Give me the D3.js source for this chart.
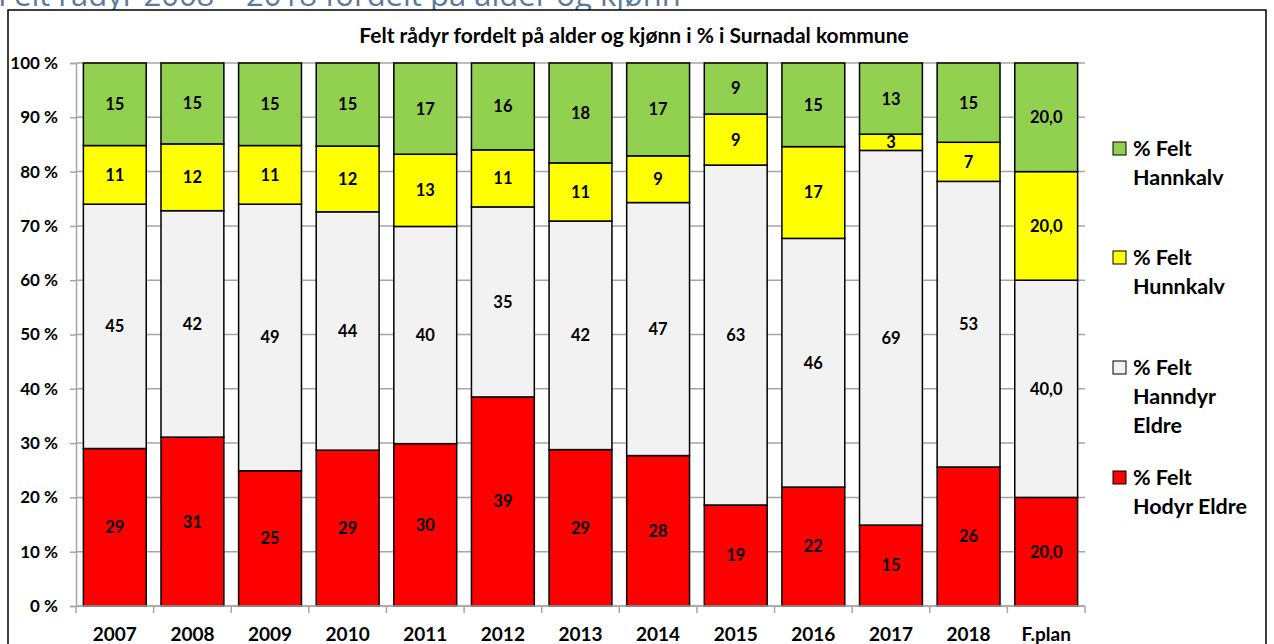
<!DOCTYPE html>
<html><head><meta charset="utf-8">
<script src="https://cdn.jsdelivr.net/npm/d3@7"></script>
<style>html,body{margin:0;padding:0;background:#fff;}svg{display:block;}</style>
</head><body>
<svg id="c" width="1274" height="644"></svg>
<script>
const categories = ["2007","2008","2009","2010","2011","2012","2013","2014","2015","2016","2017","2018","F.plan"];
const hodyrEldre   = [29.0,31.1,24.9,28.7,29.9,38.5,28.8,27.7,18.6,21.9,14.9,25.6,20];
const hanndyrEldre = [45.0,41.7,49.1,43.9,40.0,35.0,42.1,46.6,62.6,45.8,69.0,52.6,40];
const hunnkalv     = [10.8,12.3,10.8,12.1,13.3,10.5,10.7,8.6,9.4,16.9,3.0,7.2,20];
const hannkalv     = [15.2,14.9,15.2,15.3,16.8,16.0,18.4,17.1,9.4,15.4,13.1,14.6,20];
const seriesNames  = ["% Felt Hodyr Eldre","% Felt Hanndyr Eldre","% Felt Hunnkalv","% Felt Hannkalv"];
const seriesKeys   = ["hodyr","hanndyr","hunnkalv","hannkalv"];
const seriesColors = ["#FF0000","#F2F2F2","#FFFF00","#92D050"];
const yTicks = [0,10,20,30,40,50,60,70,80,90,100];
const pageHeading = "Felt rådyr 2008 – 2018 fordelt på alder og kjønn";
const chartTitle = "Felt rådyr fordelt på alder og kjønn i % i Surnadal kommune";

const rows = categories.map((c,i)=>({cat:c, hodyr:hodyrEldre[i], hanndyr:hanndyrEldre[i], hunnkalv:hunnkalv[i], hannkalv:hannkalv[i]}));
const stacked = d3.stack().keys(seriesKeys).offset(d3.stackOffsetExpand)(rows);

const svg = d3.select("#c");
const font = "Lato, 'Open Sans', sans-serif";

// page heading (cut off at top)
svg.append("text").attr("x",-2).attr("y",6).attr("font-family","'Open Sans', sans-serif")
  .attr("font-size",31).attr("fill","#5b7a9c").text(pageHeading);

// outer chart frame
svg.append("rect").attr("x",8).attr("y",10).attr("width",1258).attr("height",660)
  .attr("fill","#fff").attr("stroke","#000").attr("stroke-width",1.5);

svg.append("text").attr("x",634).attr("y",43).attr("text-anchor","middle")
  .attr("font-family",font).attr("font-weight","bold").attr("font-size",21).text(chartTitle);

const x = d3.scaleBand().domain(categories).range([76,1085]).paddingInner(0.19).paddingOuter(0.095);
const y = d3.scaleLinear().domain([0,1]).range([606,63]);
const xb = d3.scaleBand().domain(categories).range([76,1085]);

// gridlines
svg.append("g").selectAll("line").data(yTicks).join("line")
  .attr("x1",76).attr("x2",1085).attr("y1",d=>y(d/100)).attr("y2",d=>y(d/100))
  .attr("stroke","#a6a6a6").attr("stroke-width",1.5);

// y axis
const yAxis = d3.axisLeft(y).tickValues(yTicks.map(d=>d/100)).tickSize(6).tickPadding(12)
  .tickFormat(d=>Math.round(d*100)+" %");
const gy = svg.append("g").attr("transform","translate(76,0)").call(yAxis);
gy.select(".domain").attr("stroke","#a6a6a6").attr("stroke-width",1.5);
gy.selectAll(".tick line").attr("stroke","#a6a6a6").attr("stroke-width",1.5);
gy.selectAll("text").attr("font-family",font).attr("font-weight","bold").attr("font-size",17).attr("fill","#000");

// x axis ticks at boundaries
const bounds = categories.map(c=>xb(c)).concat([1085]);
svg.append("g").selectAll("line").data(bounds).join("line")
  .attr("x1",d=>d).attr("x2",d=>d).attr("y1",606).attr("y2",613)
  .attr("stroke","#a6a6a6").attr("stroke-width",1.5);
svg.append("g").selectAll("text").data(categories).join("text")
  .attr("x",d=>xb(d)+xb.bandwidth()/2).attr("y",641).attr("text-anchor","middle")
  .attr("font-family",font).attr("font-weight","bold").attr("font-size",19).text(d=>d);

// bars
stacked.forEach((s,si)=>{
  const g = svg.append("g");
  g.selectAll("rect").data(s).join("rect")
    .attr("x",d=>x(d.data.cat)).attr("width",x.bandwidth())
    .attr("y",d=>y(d[1])).attr("height",d=>y(d[0])-y(d[1]))
    .attr("fill",seriesColors[si]).attr("stroke","#000").attr("stroke-width",1.5);
  g.selectAll("text").data(s).join("text")
    .attr("x",d=>x(d.data.cat)+x.bandwidth()/2).attr("y",d=>(y(d[0])+y(d[1]))/2)
    .attr("dy","0.36em").attr("text-anchor","middle")
    .attr("font-family",font).attr("font-weight","bold").attr("font-size",16.5)
    .text(d=>{const v=d.data[seriesKeys[si]]; return d.data.cat==="F.plan"? d3.format(".1f")(v).replace(".",","): String(Math.round(v));});
});

// axis line at bottom
svg.append("line").attr("x1",76).attr("x2",1085).attr("y1",606).attr("y2",606).attr("stroke","#a6a6a6").attr("stroke-width",1.5);

// legend
const legendLines = [["% Felt","Hannkalv"],["% Felt","Hunnkalv"],["% Felt","Hanndyr","Eldre"],["% Felt","Hodyr Eldre"]];
const legendColors = [seriesColors[3],seriesColors[2],seriesColors[1],seriesColors[0]];
const legendY = [148,257,367,477];
legendLines.forEach((lines,i)=>{
  svg.append("rect").attr("x",1113).attr("y",legendY[i]-6).attr("width",13).attr("height",13)
    .attr("fill",legendColors[i]).attr("stroke","#000").attr("stroke-width",1);
  lines.forEach((t,j)=>{
    svg.append("text").attr("x",1133).attr("y",legendY[i]+j*29).attr("dy","0.36em")
      .attr("font-family",font).attr("font-weight","bold").attr("font-size",21.5).text(t);
  });
});
</script>
</body></html>
